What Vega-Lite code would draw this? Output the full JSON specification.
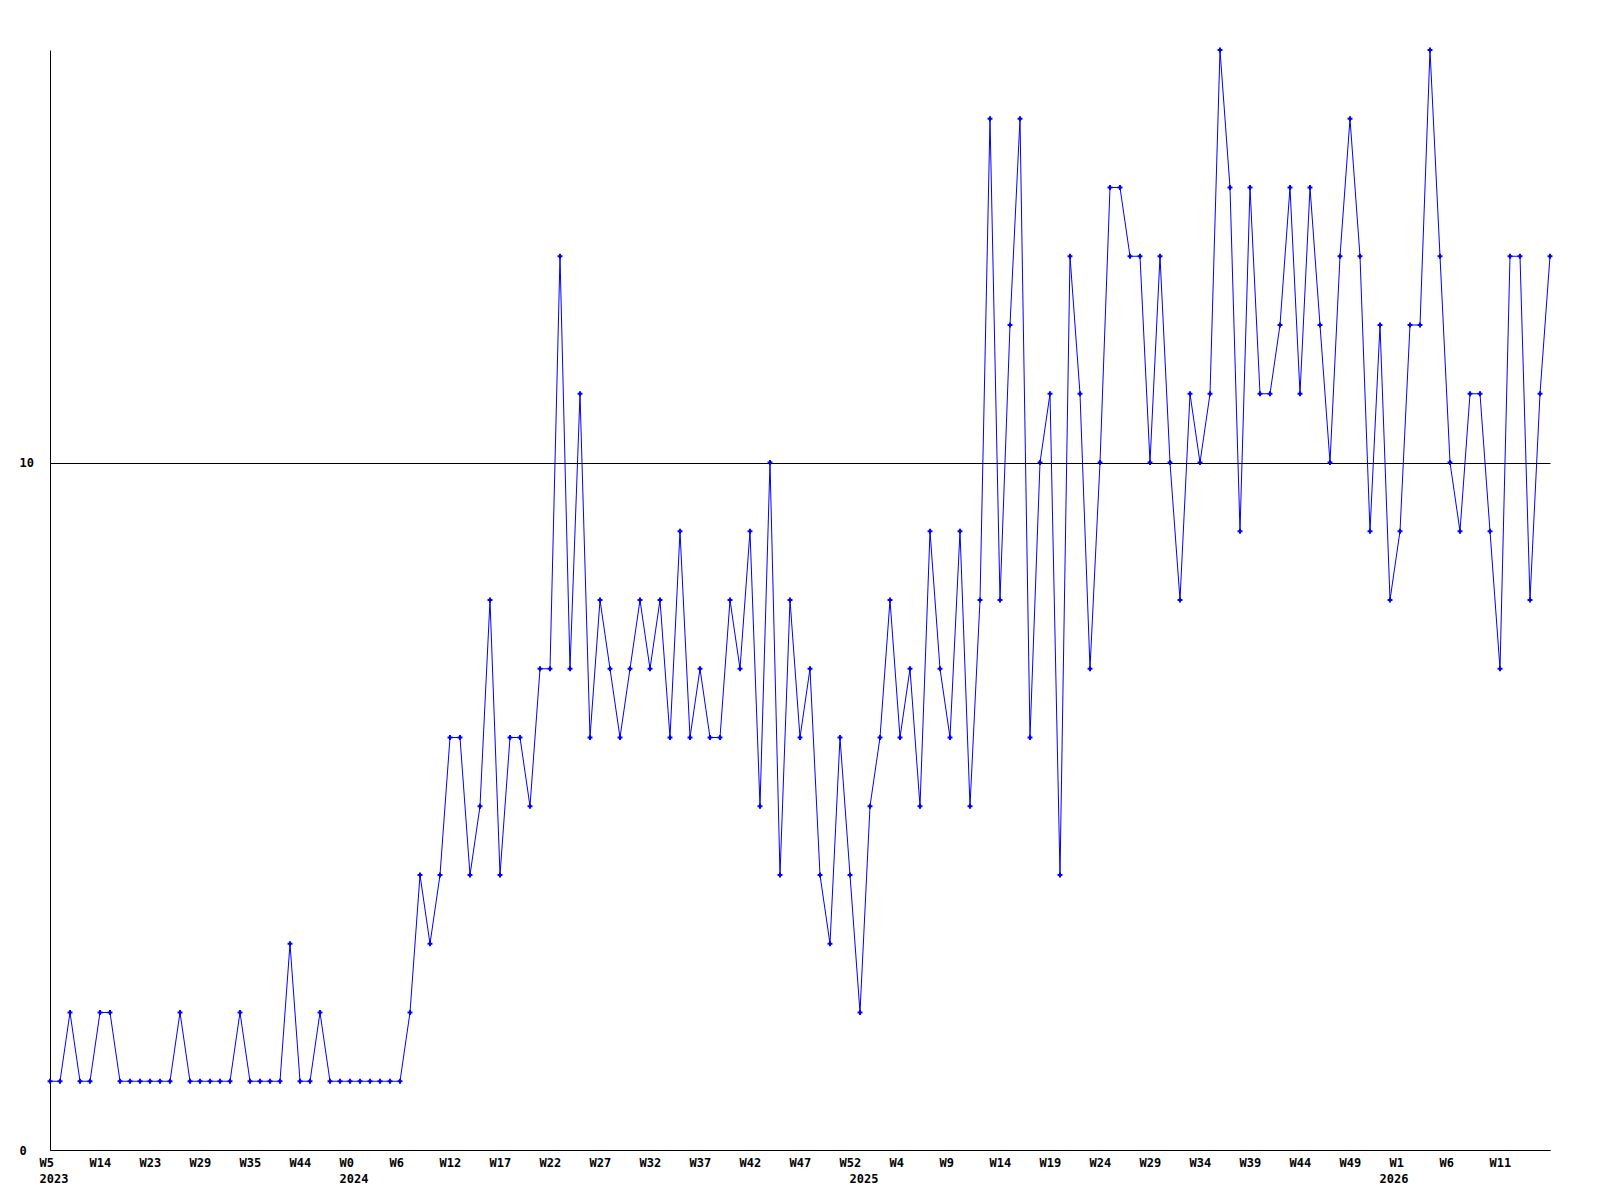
{
  "$schema": "https://vega.github.io/schema/vega-lite/v6.json",
  "width": 1500,
  "height": 1100,
  "autosize": {"type": "none"},
  "padding": {"left": 50, "top": 50, "right": 50, "bottom": 50},
  "background": "white",
  "config": {"view": {"stroke": null}},
  "data": {"values": [
    {"i":0,"v":1},{"i":1,"v":1},{"i":2,"v":2},{"i":3,"v":1},{"i":4,"v":1},{"i":5,"v":2},{"i":6,"v":2},{"i":7,"v":1},{"i":8,"v":1},{"i":9,"v":1},
    {"i":10,"v":1},{"i":11,"v":1},{"i":12,"v":1},{"i":13,"v":2},{"i":14,"v":1},{"i":15,"v":1},{"i":16,"v":1},{"i":17,"v":1},{"i":18,"v":1},{"i":19,"v":2},
    {"i":20,"v":1},{"i":21,"v":1},{"i":22,"v":1},{"i":23,"v":1},{"i":24,"v":3},{"i":25,"v":1},{"i":26,"v":1},{"i":27,"v":2},{"i":28,"v":1},{"i":29,"v":1},
    {"i":30,"v":1},{"i":31,"v":1},{"i":32,"v":1},{"i":33,"v":1},{"i":34,"v":1},{"i":35,"v":1},{"i":36,"v":2},{"i":37,"v":4},{"i":38,"v":3},{"i":39,"v":4},
    {"i":40,"v":6},{"i":41,"v":6},{"i":42,"v":4},{"i":43,"v":5},{"i":44,"v":8},{"i":45,"v":4},{"i":46,"v":6},{"i":47,"v":6},{"i":48,"v":5},{"i":49,"v":7},
    {"i":50,"v":7},{"i":51,"v":13},{"i":52,"v":7},{"i":53,"v":11},{"i":54,"v":6},{"i":55,"v":8},{"i":56,"v":7},{"i":57,"v":6},{"i":58,"v":7},{"i":59,"v":8},
    {"i":60,"v":7},{"i":61,"v":8},{"i":62,"v":6},{"i":63,"v":9},{"i":64,"v":6},{"i":65,"v":7},{"i":66,"v":6},{"i":67,"v":6},{"i":68,"v":8},{"i":69,"v":7},
    {"i":70,"v":9},{"i":71,"v":5},{"i":72,"v":10},{"i":73,"v":4},{"i":74,"v":8},{"i":75,"v":6},{"i":76,"v":7},{"i":77,"v":4},{"i":78,"v":3},{"i":79,"v":6},
    {"i":80,"v":4},{"i":81,"v":2},{"i":82,"v":5},{"i":83,"v":6},{"i":84,"v":8},{"i":85,"v":6},{"i":86,"v":7},{"i":87,"v":5},{"i":88,"v":9},{"i":89,"v":7},
    {"i":90,"v":6},{"i":91,"v":9},{"i":92,"v":5},{"i":93,"v":8},{"i":94,"v":15},{"i":95,"v":8},{"i":96,"v":12},{"i":97,"v":15},{"i":98,"v":6},{"i":99,"v":10},
    {"i":100,"v":11},{"i":101,"v":4},{"i":102,"v":13},{"i":103,"v":11},{"i":104,"v":7},{"i":105,"v":10},{"i":106,"v":14},{"i":107,"v":14},{"i":108,"v":13},{"i":109,"v":13},
    {"i":110,"v":10},{"i":111,"v":13},{"i":112,"v":10},{"i":113,"v":8},{"i":114,"v":11},{"i":115,"v":10},{"i":116,"v":11},{"i":117,"v":16},{"i":118,"v":14},{"i":119,"v":9},
    {"i":120,"v":14},{"i":121,"v":11},{"i":122,"v":11},{"i":123,"v":12},{"i":124,"v":14},{"i":125,"v":11},{"i":126,"v":14},{"i":127,"v":12},{"i":128,"v":10},{"i":129,"v":13},
    {"i":130,"v":15},{"i":131,"v":13},{"i":132,"v":9},{"i":133,"v":12},{"i":134,"v":8},{"i":135,"v":9},{"i":136,"v":12},{"i":137,"v":12},{"i":138,"v":16},{"i":139,"v":13},
    {"i":140,"v":10},{"i":141,"v":9},{"i":142,"v":11},{"i":143,"v":11},{"i":144,"v":9},{"i":145,"v":7},{"i":146,"v":13},{"i":147,"v":13},{"i":148,"v":8},{"i":149,"v":11},
    {"i":150,"v":13}
  ]},
  "encoding": {
    "x": {
      "field": "i", "type": "quantitative",
      "scale": {"domain": [0, 150], "nice": false, "zero": false},
      "axis": {
        "title": null,
        "grid": false,
        "ticks": false,
        "tickSize": 0,
        "domainColor": "black",
        "domainWidth": 1,
        "labelFont": "DejaVu Sans Mono",
        "labelFontWeight": "bold",
        "labelFontSize": 12,
        "labelColor": "black",
        "labelAlign": "left",
        "labelOffset": -11,
        "labelBaseline": "top",
        "labelPadding": 7,
        "labelLineHeight": 16,
        "labelOverlap": false,
        "labelFlush": false,
        "values": [0,5,10,15,20,25,30,35,40,45,50,55,60,65,70,75,80,81,85,90,95,100,105,110,115,120,125,130,134,135,140,145],
        "labelExpr": "datum.value == 0 ? ['W5','2023'] : datum.value == 30 ? ['W0','2024'] : datum.value == 81 ? [' ','2025'] : datum.value == 134 ? [' ','2026'] : ['W5','W14','W23','W29','W35','W44','W0','W6','W12','W17','W22','W27','W32','W37','W42','W47','W52','W4','W9','W14','W19','W24','W29','W34','W39','W44','W49','W1','W6','W11'][floor(datum.value/5)]"
      }
    },
    "y": {
      "field": "v", "type": "quantitative",
      "scale": {"domain": [0, 16], "nice": false},
      "axis": {
        "title": null,
        "values": [0, 10],
        "grid": true,
        "gridColor": "black",
        "gridWidth": 1,
        "gridOpacity": 1,
        "ticks": false,
        "tickSize": 0,
        "domainColor": "black",
        "domainWidth": 1,
        "labelFont": "DejaVu Sans Mono",
        "labelFontWeight": "bold",
        "labelFontSize": 12,
        "labelColor": "black",
        "labelAlign": "left",
        "labelPadding": 31,
        "labelBaseline": "middle",
        "labelFlush": false
      }
    }
  },
  "layer": [
    {"mark": {"type": "line", "color": "#0000ff", "strokeWidth": 1, "interpolate": "linear"}},
    {"mark": {"type": "point", "shape": "cross", "filled": true, "color": "#0000ff", "size": 24, "opacity": 1}}
  ]
}
